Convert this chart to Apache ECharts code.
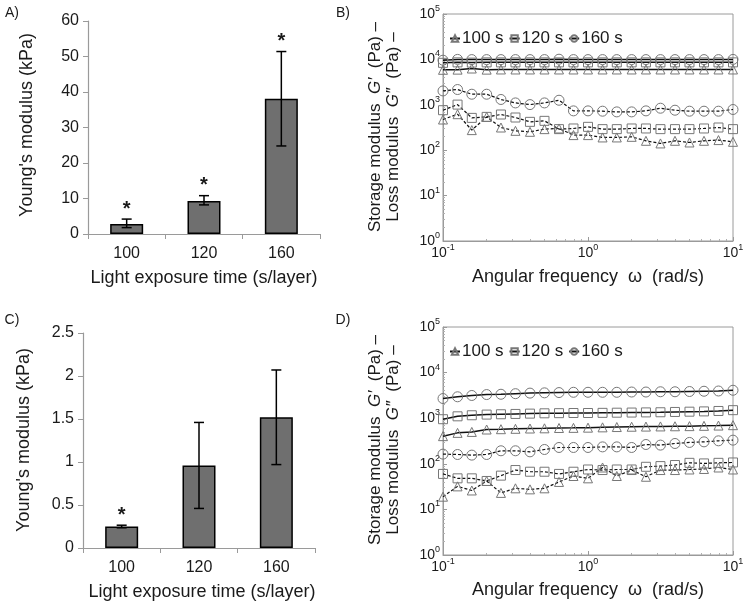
<!DOCTYPE html>
<html>
<head>
<meta charset="utf-8">
<script src="https://cdn.jsdelivr.net/npm/echarts@6/dist/echarts.min.js"></script>
<style>
  html, body { margin: 0; padding: 0; background: #fff; }
  #chart { width: 750px; height: 604px; }
</style>
</head>
<body>
<div id="chart"></div>
<script>
// 柱状图数据 (A, C)
const categories = ["100", "120", "160"];
const aMean = [2.8, 9.3, 38.1];
const aLow = [1.8, 8.2, 24.8];
const aHigh = [4.2, 10.8, 51.4];
const aStars = [true, true, true];
const cMean = [0.25, 0.96, 1.52];
const cLow = [0.235, 0.46, 0.97];
const cHigh = [0.265, 1.46, 2.07];
const cStars = [true, false, false];

// 频率 (rad/s)
const freq = [0.1, 0.126, 0.158, 0.2, 0.251, 0.316, 0.398, 0.501, 0.631, 0.794,
  1, 1.26, 1.58, 2, 2.51, 3.16, 3.98, 5.01, 6.31, 7.94, 10];

// B: G' (实线) / G'' (虚线)
const bStorage100 = [5900, 5950, 6300, 5950, 6000, 6000, 6000, 6000, 6000, 6000, 6000, 6000, 6000, 6000, 6000, 6000, 6000, 6000, 6000, 6000, 6000];
const bStorage120 = [8400, 8600, 8500, 8600, 8600, 8600, 8600, 8600, 8600, 8600, 8600, 8600, 8600, 8600, 8600, 8600, 8600, 8600, 8600, 8600, 8600];
const bStorage160 = [9600, 10000, 9900, 9900, 9900, 9900, 9900, 9900, 10100, 9900, 9900, 9900, 9900, 9900, 9900, 9900, 9900, 9900, 9900, 9900, 10000];
const bLoss100 = [474, 621, 277, 542, 316, 267, 254, 291, 301, 215, 215, 191, 191, 197, 161, 141, 161, 148, 161, 167, 153];
const bLoss120 = [760, 1010, 515, 542, 611, 525, 421, 443, 291, 301, 327, 291, 291, 301, 301, 291, 291, 291, 301, 316, 291];
const bLoss160 = [2020, 2170, 1710, 1710, 1310, 1100, 1010, 1100, 1260, 735, 735, 723, 698, 698, 735, 841, 760, 723, 723, 723, 788];

// D
const dStorage100 = [404, 477, 500, 565, 574, 585, 594, 600, 610, 614, 620, 630, 640, 650, 655, 660, 665, 670, 680, 690, 703];
const dStorage120 = [950, 1100, 1160, 1200, 1220, 1240, 1260, 1280, 1290, 1300, 1300, 1310, 1320, 1330, 1340, 1350, 1370, 1390, 1410, 1440, 1500];
const dStorage160 = [2700, 2950, 3150, 3300, 3350, 3450, 3550, 3600, 3650, 3700, 3700, 3700, 3700, 3750, 3750, 3800, 3800, 3850, 3900, 3950, 4100];
const dLoss100 = [19, 32, 26, 42, 23, 29, 27.5, 29, 40, 54, 48, 83, 54, 73, 52, 73, 73, 75, 77, 83, 75];
const dLoss120 = [60, 48, 48, 42, 55, 73, 67, 67, 60, 67, 75, 73, 75, 75, 86, 89, 94, 105, 102, 105, 107];
const dLoss160 = [163, 160, 155, 160, 193, 193, 183, 206, 228, 228, 228, 235, 235, 228, 265, 257, 279, 294, 303, 319, 330];

const seriesNames = ["100 s", "120 s", "160 s"];
const symbols = ["triangle", "rect", "circle"];

const FONT = "'Liberation Sans', Arial, sans-serif";
const TEXT = "#1a1a1a";
const AXIS = "#9a9a9a";

// 对数轴小刻度
const minorX = [];
const minorY = [];
for (let e = -1; e < 1; e++) {
  for (let m = 2; m < 10; m++) minorX.push(+(m * Math.pow(10, e)).toFixed(3));
}
for (let e = 0; e < 5; e++) {
  for (let m = 2; m < 10; m++) minorY.push(m * Math.pow(10, e));
}

const supLabel = (v) => "10{s|" + Math.round(Math.log10(v)) + "}";
const supRich = {
  s: { fontSize: 9, verticalAlign: "top", lineHeight: 10, fontFamily: FONT, color: TEXT },
};

// 柱状图坐标轴
const barX = (gridIndex) => ({
  type: "category",
  gridIndex,
  data: categories,
  axisLine: { lineStyle: { color: AXIS, width: 1.2 } },
  axisTick: { show: true, length: 5, lineStyle: { color: AXIS } },
  axisLabel: { fontSize: 16, color: TEXT, fontFamily: FONT, margin: 12 },
});
const barY = (gridIndex, max, interval) => ({
  type: "value",
  gridIndex,
  min: 0,
  max,
  interval,
  axisLine: { show: true, lineStyle: { color: AXIS, width: 1.2 } },
  axisTick: { show: true, length: 5, lineStyle: { color: AXIS } },
  axisLabel: { fontSize: 16, color: TEXT, fontFamily: FONT, margin: 9 },
  splitLine: { show: false },
});

// 流变图坐标轴
const logX = (gridIndex) => ({
  type: "log",
  logBase: 10,
  gridIndex,
  min: 0.1,
  max: 10,
  position: "bottom",
  axisLine: { lineStyle: { color: AXIS } },
  axisTick: { inside: true, length: 4, lineStyle: { color: AXIS } },
  axisLabel: { formatter: supLabel, rich: supRich, fontSize: 14, lineHeight: 20, color: TEXT, fontFamily: FONT, margin: 2 },
  splitLine: { show: false },
});
const logY = (gridIndex) => ({
  type: "log",
  logBase: 10,
  gridIndex,
  min: 1,
  max: 100000,
  position: "left",
  axisLine: { show: true, lineStyle: { color: AXIS } },
  axisTick: { show: true, inside: true, length: 4, lineStyle: { color: AXIS } },
  axisLabel: { formatter: supLabel, rich: supRich, fontSize: 14, lineHeight: 20, color: TEXT, fontFamily: FONT, margin: 3 },
  splitLine: { show: false },
});
const minorAxis = (base, values) => Object.assign({}, base, {
  axisLine: { show: false },
  axisLabel: { show: false },
  axisTick: { show: true, inside: true, length: 2, customValues: values, lineStyle: { color: "#b0b0b0" } },
});

// 误差棒 + 星号
const errorSeries = (xi, yi, low, high, stars) => ({
  type: "custom",
  xAxisIndex: xi,
  yAxisIndex: yi,
  z: 5,
  data: low.map((v, i) => [i, v, high[i]]),
  renderItem: (params, api) => {
    const top = api.coord([api.value(0), api.value(2)]);
    const bot = api.coord([api.value(0), api.value(1)]);
    const cap = 5;
    const line = { stroke: "#000", lineWidth: 1.5 };
    const children = [
      { type: "line", shape: { x1: top[0], y1: top[1], x2: bot[0], y2: bot[1] }, style: line },
      { type: "line", shape: { x1: top[0] - cap, y1: top[1], x2: top[0] + cap, y2: top[1] }, style: line },
      { type: "line", shape: { x1: bot[0] - cap, y1: bot[1], x2: bot[0] + cap, y2: bot[1] }, style: line },
    ];
    if (stars[params.dataIndex]) {
      children.push({
        type: "text",
        x: top[0],
        y: top[1] - 10,
        style: { text: "*", fill: TEXT, font: "bold 20px " + FONT, align: "center", verticalAlign: "middle" },
      });
    }
    return { type: "group", children };
  },
});

const barSeries = (xi, yi, values) => ({
  type: "bar",
  xAxisIndex: xi,
  yAxisIndex: yi,
  data: values,
  barWidth: 33,
  itemStyle: { color: "#6f6f6f", borderColor: "#000", borderWidth: 1.5 },
});

const lineSeries = (xi, yi, k, values, dashed) => ({
  name: seriesNames[k],
  type: "line",
  xAxisIndex: xi,
  yAxisIndex: yi,
  data: freq.map((f, i) => [f, values[i]]),
  symbol: symbols[k],
  symbolSize: k === 2 ? 10 : 9,
  itemStyle: { color: "rgba(255,255,255,0)", borderColor: "#777", borderWidth: 1 },
  lineStyle: dashed
    ? { color: "#111", width: 1.2, type: [3, 2] }
    : { color: "#111", width: 1.5 },
  z: dashed ? 3 : 4,
});

const legendAt = (top) => ({
  data: seriesNames,
  left: 444,
  top,
  itemWidth: 10,
  itemHeight: 8,
  itemGap: 5,
  textStyle: { fontSize: 17, color: TEXT, fontFamily: FONT, padding: [0, 0, 0, -3] },
});

const text = (x, y, str, size, rot, extra) => ({
  type: "text",
  x,
  y,
  rotation: rot || 0,
  style: Object.assign({ text: str, fill: TEXT, font: size + "px " + FONT, align: "center", verticalAlign: "middle" }, extra || {}),
});
const gRich = { i: { fontStyle: "italic", fontSize: 17, fontFamily: FONT, fill: TEXT } };

const option = {
  backgroundColor: "#fff",
  animation: false,
  textStyle: { fontFamily: FONT },
  grid: [
    { left: 88, top: 21, width: 232, height: 213 },
    { left: 443, top: 14, width: 290, height: 227, show: true, borderColor: AXIS, borderWidth: 1 },
    { left: 83, top: 333, width: 232, height: 215 },
    { left: 443, top: 327, width: 290, height: 228, show: true, borderColor: AXIS, borderWidth: 1 },
  ],
  xAxis: [
    barX(0),
    logX(1),
    minorAxis(logX(1), minorX),
    barX(2),
    logX(3),
    minorAxis(logX(3), minorX),
  ],
  yAxis: [
    barY(0, 60, 10),
    logY(1),
    minorAxis(logY(1), minorY),
    barY(2, 2.5, 0.5),
    logY(3),
    minorAxis(logY(3), minorY),
  ],
  legend: [legendAt(25), legendAt(338)],
  series: [
    barSeries(0, 0, aMean),
    errorSeries(0, 0, aLow, aHigh, aStars),
    lineSeries(1, 1, 0, bStorage100, false),
    lineSeries(1, 1, 1, bStorage120, false),
    lineSeries(1, 1, 2, bStorage160, false),
    lineSeries(1, 1, 0, bLoss100, true),
    lineSeries(1, 1, 1, bLoss120, true),
    lineSeries(1, 1, 2, bLoss160, true),
    barSeries(3, 3, cMean),
    errorSeries(3, 3, cLow, cHigh, cStars),
    lineSeries(4, 4, 0, dStorage100, false),
    lineSeries(4, 4, 1, dStorage120, false),
    lineSeries(4, 4, 2, dStorage160, false),
    lineSeries(4, 4, 0, dLoss100, true),
    lineSeries(4, 4, 1, dLoss120, true),
    lineSeries(4, 4, 2, dLoss160, true),
  ],
  graphic: [
    text(12, 13, "A)", 14),
    text(343, 13, "B)", 14),
    text(12, 320, "C)", 14),
    text(343, 320, "D)", 14),
    // 坐标轴标题
    text(27, 125, "Young's modulus (kPa)", 18, Math.PI / 2),
    text(204, 278, "Light exposure time (s/layer)", 18),
    text(24, 440, "Young's modulus (kPa)", 18, Math.PI / 2),
    text(202, 592, "Light exposure time (s/layer)", 18),
    text(588, 277, "Angular frequency  ω  (rad/s)", 18),
    text(588, 590, "Angular frequency  ω  (rad/s)", 18),
    text(375, 127, "Storage modulus  {i|G′}  (Pa) –", 17, Math.PI / 2, { rich: gRich }),
    text(393, 127, "Loss modulus  {i|G″}  (Pa) –", 17, Math.PI / 2, { rich: gRich }),
    text(375, 440, "Storage modulus  {i|G′}  (Pa) –", 17, Math.PI / 2, { rich: gRich }),
    text(393, 440, "Loss modulus  {i|G″}  (Pa) –", 17, Math.PI / 2, { rich: gRich }),
  ],
};

const chart = echarts.init(document.getElementById("chart"), null, { renderer: "canvas" });
chart.setOption(option);
</script>
</body>
</html>
